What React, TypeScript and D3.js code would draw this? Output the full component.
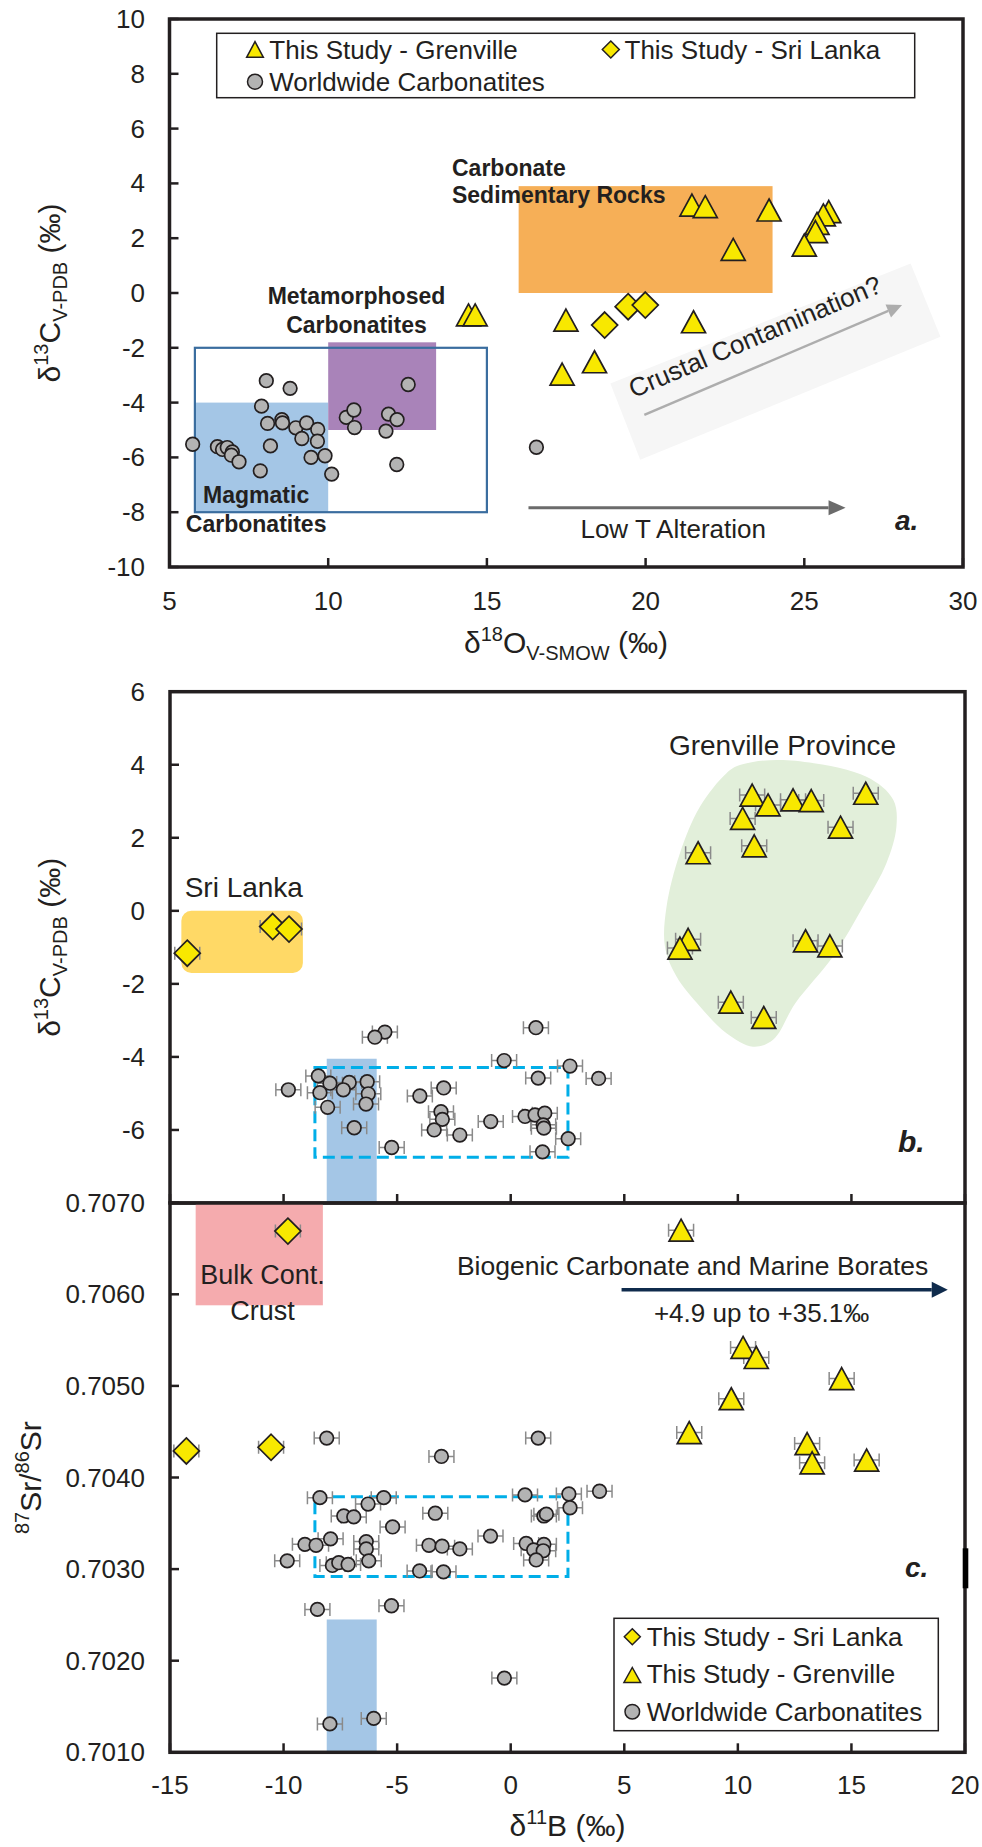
import React from 'react';
import * as d3 from 'd3';

// ---------- panel a : d18O (V-SMOW) vs d13C (V-PDB)
const grenO = [14.42, 14.63, 21.46, 21.88, 23.89, 22.76, 25.77, 25.6, 25.40, 25.35, 25.00, 17.49, 21.51, 18.39, 17.37];
const grenC_a = [-0.80, -0.80, 3.21, 3.15, 3.03, 1.59, 2.97, 2.85, 2.54, 2.24, 1.75, -0.99, -1.05, -2.51, -2.96];
const sriO = [18.71, 19.45, 19.99];
const sriC_a = [-1.17, -0.50, -0.44];
const worldO = [5.73, 6.51, 6.67, 6.82, 6.98, 6.95, 7.19, 7.86, 8.05, 8.80, 7.90, 8.09, 8.54, 8.56, 8.18, 8.98,
  9.32, 9.17, 9.67, 9.66, 9.46, 9.90, 10.11, 10.57, 10.81, 10.83, 11.90, 12.17, 11.82, 12.52, 12.16, 16.56];
const worldC_a = [-5.52, -5.61, -5.71, -5.64, -5.80, -5.92, -6.16, -6.49, -3.20, -3.48, -4.13, -4.76, -4.62, -4.74, -5.58, -4.92,
  -4.74, -5.31, -4.98, -5.41, -6.00, -5.94, -6.61, -4.54, -4.27, -4.91, -4.42, -4.62, -5.04, -3.34, -6.26, -5.63];

// fields in panel a  [x0, x1, y0, y1]
const magmaticFill = [5.8, 10, -8, -4];
const metaFill = [10, 13.4, -5, -1.8];
const sedFill = [16, 24, 0, 3.9];
const magmaticBox = [5.8, 15, -8, -2];
const contamShade = [[18.89, -3.30], [28.35, 1.08], [29.29, -1.60], [19.83, -6.09]];
const contamArrow = [[19.96, -4.45], [28.08, -0.44]];
const alterArrow = [[16.31, -7.84], [26.3, -7.84]];

const xTicksA = [5, 10, 15, 20, 25, 30];
const yTicksA = [10, 8, 6, 4, 2, 0, -2, -4, -6, -8, -10];

// ---------- panel b : d11B vs d13C
const grenB_b = [10.63, 11.33, 10.21, 12.43, 13.23, 15.63, 14.52, 8.25, 10.72, 7.81, 7.45, 12.98, 14.05, 9.69, 11.14];
const grenC_b = [3.17, 2.90, 2.53, 3.04, 3.02, 3.22, 2.29, 1.59, 1.78, -0.78, -1.02, -0.82, -0.96, -2.50, -2.92];
const sriB_b = [-14.24, -10.48, -9.76];
const sriC_b = [-1.16, -0.43, -0.50];
const worldB_b = [-5.54, -5.98, 1.11, -0.29, 2.61, 3.87, 1.21, -8.47, -7.96, -7.11, -6.32, -7.37, -9.79, -8.40, -6.27, -6.37,
  -8.06, -6.89, -4.00, -2.95, -3.07, -3.01, -3.37, -2.24, -5.24, -0.88, 0.63, 1.07, 1.50, 1.43, 1.46, 2.53, 1.40];
const worldC_b = [-3.32, -3.46, -3.20, -4.10, -4.25, -4.59, -4.58, -4.52, -4.72, -4.70, -4.68, -4.90, -4.90, -4.98, -5.01, -5.29,
  -5.38, -5.94, -5.07, -4.85, -5.50, -5.71, -6.00, -6.14, -6.48, -5.77, -5.63, -5.59, -5.54, -5.86, -5.95, -6.24, -6.60];
const grenHullB = [10.09, 11.99, 15.66, 16.84, 16.98, 16.54, 15.51, 14.19, 12.53, 11.55, 10.67, 9.50, 8.33, 7.30, 6.79, 6.86, 7.45, 8.33, 9.50];
const grenHullC = [3.99, 4.13, 3.67, 3.04, 2.30, 1.30, 0.11, -1.25, -2.53, -3.53, -3.72, -3.35, -2.62, -1.80, -0.98, 0.11, 1.58, 2.85, 3.77];
const sriLankaBox = [-14.5, -9.15, -1.7, 0];
const magmaticBand = [-8.1, -5.9];
const magmaticBandC = [-8, -4.05];
const worldBoxB = [-8.62, 2.52];
const worldBoxC = [-6.75, -4.29];
const yTicksB = [6, 4, 2, 0, -2, -4, -6];

// ---------- panel c : d11B vs 87Sr/86Sr
const grenB_c = [7.50, 10.23, 10.81, 14.57, 9.71, 7.86, 13.05, 13.27, 15.67];
const grenSr = [0.70670, 0.70542, 0.70531, 0.70508, 0.70486, 0.70449, 0.70437, 0.70416, 0.70419];
const sriB_c = [-9.81, -14.28, -10.55];
const sriSr = [0.70669, 0.70429, 0.70433];
const worldB_c = [-8.10, 1.21, -3.05, -8.40, -5.59, -6.28, -7.35, -6.91, -3.32, -5.20, 0.63, 2.56, 3.91, 2.61, 1.46, 1.57,
  -7.93, -9.06, -8.57, -6.36, -6.36, -6.25, -9.84, -7.85, -7.57, -7.16, -3.60, -3.02, -2.24, -0.89, 0.68, 1.46,
  1.01, 1.43, 1.12, -4.01, -2.96, -8.51, -5.25, -0.28, -7.96, -6.03];
const worldSr = [0.70443, 0.70443, 0.70423, 0.70378, 0.70378, 0.70371, 0.70358, 0.70357, 0.70361, 0.70346, 0.70381, 0.70382,
  0.70385, 0.70367, 0.70358, 0.70360, 0.70333, 0.70327, 0.70326, 0.70330, 0.70322, 0.70309, 0.70309, 0.70304, 0.70307,
  0.70305, 0.70326, 0.70325, 0.70322, 0.70336, 0.70328, 0.70327, 0.70321, 0.70320, 0.70310, 0.70298, 0.70297, 0.70256,
  0.70260, 0.70181, 0.70131, 0.70137];
const bulkCrustB = [-13.87, -8.27];
const bulkCrustSr = [0.70588, 0.7070];
const magmaticBandSr = [0.701, 0.70245];
const worldBoxSr = [0.70292, 0.70379];
const marineArrow = [4.88, 19.24];
const marineArrowSr = 0.70605;
const xTicksC = [-15, -10, -5, 0, 5, 10, 15, 20];
const yTicksC = [0.707, 0.706, 0.705, 0.704, 0.703, 0.702, 0.701];

const errB = 0.55;

const FONT = '"Liberation Sans", Arial, Helvetica, sans-serif';
const INK = '#231f20';
const YEL = '#f8e800';
const GREY = '#b3b3b3';

const xA = d3.scaleLinear().domain([5, 30]).range([169.5, 963]);
const yA = d3.scaleLinear().domain([-10, 10]).range([567, 19]);
const xB = d3.scaleLinear().domain([-15, 20]).range([170, 965]);
const yB = d3.scaleLinear().domain([-8, 6]).range([1203, 691.7]);
const yC = d3.scaleLinear().domain([0.701, 0.707]).range([1752.3, 1202.7]);

const tri = (cx, cy, w = 24, h = 22) => `M${cx},${cy - h / 2}L${cx + w / 2},${cy + h / 2}L${cx - w / 2},${cy + h / 2}Z`;
const dia = (cx, cy, r = 13) => `M${cx},${cy - r}L${cx + r},${cy}L${cx},${cy + r}L${cx - r},${cy}Z`;

function box(xs, ys, xr, yr) {
  return { x: xs(xr[0]), y: ys(yr[1]), width: xs(xr[1]) - xs(xr[0]), height: ys(yr[0]) - ys(yr[1]) };
}

function Arrow({ x1, y1, x2, y2, color, w, len, half }) {
  const a = Math.atan2(y2 - y1, x2 - x1);
  const bx = x2 - len * Math.cos(a), by = y2 - len * Math.sin(a);
  const px = -Math.sin(a) * half, py = Math.cos(a) * half;
  return (
    <g>
      <line x1={x1} y1={y1} x2={bx} y2={by} stroke={color} strokeWidth={w} />
      <path d={`M${x2},${y2}L${bx + px},${by + py}L${bx - px},${by - py}Z`} fill={color} />
    </g>
  );
}

function ErrBars({ xs, ys, xv, yv }) {
  return (
    <g stroke="#8a8a8a" strokeWidth={1.5} fill="none">
      {xv.map((v, i) => {
        const y = ys(yv[i]), a = xs(v - errB), b = xs(v + errB);
        return <path key={i} d={`M${a},${y}H${b}M${a},${y - 6.5}V${y + 6.5}M${b},${y - 6.5}V${y + 6.5}`} />;
      })}
    </g>
  );
}

function Points({ xs, ys, tx, ty, sx, sy, wx, wy }) {
  return (
    <g stroke={INK} strokeWidth={1.7}>
      {wx.map((v, i) => <circle key={'w' + i} cx={xs(v)} cy={ys(wy[i])} r={6.8} fill={GREY} />)}
      {sx.map((v, i) => <path key={'s' + i} d={dia(xs(v), ys(sy[i]))} fill={YEL} />)}
      {tx.map((v, i) => <path key={'t' + i} d={tri(xs(v), ys(ty[i]))} fill={YEL} />)}
    </g>
  );
}

export default function App() {
  const hull = d3.line().curve(d3.curveCatmullRomClosed.alpha(0.5))(
    grenHullB.map((v, i) => [xB(v), yB(grenHullC[i])])
  );
  const shade = contamShade.map(p => `${xA(p[0])},${yA(p[1])}`).join(' ');
  const cA = contamArrow.map(p => [xA(p[0]), yA(p[1])]);
  const ang = Math.atan2(cA[1][1] - cA[0][1], cA[1][0] - cA[0][0]) * 180 / Math.PI;

  return (
    <div style={{ position: 'absolute', left: 0, top: 0 }}>
      <svg width={982} height={1847} viewBox="0 0 982 1847" fontFamily={FONT} fill={INK} style={{ display: 'block', background: '#fff' }}>
        {/* ================= panel a ================= */}
        <rect {...box(xA, yA, [magmaticFill[0], magmaticFill[1]], [magmaticFill[2], magmaticFill[3]])} fill="#a4c6e6" />
        <rect {...box(xA, yA, [metaFill[0], metaFill[1]], [metaFill[2], metaFill[3]])} fill="#a983b9" />
        <rect {...box(xA, yA, [sedFill[0], sedFill[1]], [sedFill[2], sedFill[3]])} fill="#f6af57" />
        <rect {...box(xA, yA, [magmaticBox[0], magmaticBox[1]], [magmaticBox[2], magmaticBox[3]])} fill="none" stroke="#3a6d9f" strokeWidth={2.2} />
        <polygon points={shade} fill="#f6f6f6" />
        <Arrow x1={cA[0][0]} y1={cA[0][1]} x2={cA[1][0]} y2={cA[1][1]} color="#adadad" w={2.5} len={15} half={7} />
        <text transform={`translate(${xA(19.62)},${yA(-3.84)}) rotate(${ang})`} fontSize={26}>Crustal Contamination?</text>
        <Arrow x1={xA(alterArrow[0][0])} y1={yA(alterArrow[0][1])} x2={xA(alterArrow[1][0])} y2={yA(alterArrow[1][1])} color="#6b6b6b" w={3} len={17} half={7.5} />
        <text x={xA(20.87)} y={yA(-8.95)} fontSize={26} textAnchor="middle">Low T Alteration</text>

        <g fontWeight="bold" fontSize={23}>
          <text x={xA(13.9)} y={yA(4.27)}>Carbonate</text>
          <text x={xA(13.9)} y={yA(3.27)}>Sedimentary Rocks</text>
          <text x={xA(10.89)} y={yA(-0.39)} textAnchor="middle">Metamorphosed</text>
          <text x={xA(10.89)} y={yA(-1.47)} textAnchor="middle">Carbonatites</text>
          <text x={xA(7.73)} y={yA(-7.68)} textAnchor="middle">Magmatic</text>
          <text x={xA(7.73)} y={yA(-8.71)} textAnchor="middle">Carbonatites</text>
        </g>

        <Points xs={xA} ys={yA} tx={grenO} ty={grenC_a} sx={sriO} sy={sriC_a} wx={worldO} wy={worldC_a} />
        <text x={895} y={530} fontSize={28} fontWeight="bold" fontStyle="italic">a.</text>

        {/* legend a */}
        <rect x={216.7} y={33.3} width={698} height={64.4} fill="#fff" stroke={INK} strokeWidth={1.5} />
        <g stroke={INK} strokeWidth={1.5}>
          <path d={tri(255, 49.5, 16.7, 15.6)} fill={YEL} />
          <circle cx={255} cy={81.7} r={7.5} fill={GREY} />
          <path d={dia(610.8, 49.5, 8.5)} fill={YEL} />
        </g>
        <g fontSize={26}>
          <text x={269.3} y={58.5}>This Study - Grenville</text>
          <text x={624.5} y={58.5}>This Study - Sri Lanka</text>
          <text x={269.3} y={90.5}>Worldwide Carbonatites</text>
        </g>

        {/* axes a */}
        <rect x={169.5} y={19} width={793.5} height={548} fill="none" stroke={INK} strokeWidth={3.5} />
        <g stroke={INK} strokeWidth={2.5}>
          {yTicksA.map(t => <line key={t} x1={169.5} x2={178.5} y1={yA(t)} y2={yA(t)} />)}
          {xTicksA.map(t => <line key={t} x1={xA(t)} x2={xA(t)} y1={567} y2={558} />)}
        </g>
        <g fontSize={26}>
          {yTicksA.map(t => <text key={t} x={145} y={yA(t) + 9} textAnchor="end">{String(t)}</text>)}
          {xTicksA.map(t => <text key={t} x={xA(t)} y={610} textAnchor="middle">{String(t)}</text>)}
        </g>
        <text x={566} y={653} fontSize={30} textAnchor="middle">
          δ<tspan fontSize={20} dy={-12}>18</tspan><tspan dy={12}>O</tspan><tspan fontSize={20} dy={7}>V-SMOW</tspan><tspan dy={-7}> (‰)</tspan>
        </text>
        <text transform="translate(60,293) rotate(-90)" fontSize={30} textAnchor="middle">
          δ<tspan fontSize={20} dy={-12}>13</tspan><tspan dy={12}>C</tspan><tspan fontSize={20} dy={7}>V-PDB</tspan><tspan dy={-7}> (‰)</tspan>
        </text>

        {/* ================= panel b ================= */}
        <path d={hull} fill="#e2efda" />
        <rect {...box(xB, yB, [sriLankaBox[0], sriLankaBox[1]], [sriLankaBox[2], sriLankaBox[3]])} rx={10} fill="#ffd966" />
        <rect {...box(xB, yB, magmaticBand, magmaticBandC)} fill="#a4c6e6" />
        <rect {...box(xB, yB, worldBoxB, worldBoxC)} fill="none" stroke="#00aee8" strokeWidth={3} strokeDasharray="12 6" />
        <ErrBars xs={xB} ys={yB} xv={worldB_b} yv={worldC_b} />
        <ErrBars xs={xB} ys={yB} xv={grenB_b} yv={grenC_b} />
        <ErrBars xs={xB} ys={yB} xv={sriB_b} yv={sriC_b} />
        <Points xs={xB} ys={yB} tx={grenB_b} ty={grenC_b} sx={sriB_b} sy={sriC_b} wx={worldB_b} wy={worldC_b} />
        <text x={243.8} y={897} fontSize={28} textAnchor="middle">Sri Lanka</text>
        <text x={782.5} y={755} fontSize={28} textAnchor="middle">Grenville Province</text>
        <text x={898} y={1152} fontSize={30} fontWeight="bold" fontStyle="italic">b.</text>

        <rect x={170} y={691.7} width={795} height={511.3} fill="none" stroke={INK} strokeWidth={3.5} />
        <g stroke={INK} strokeWidth={2.5}>
          {yTicksB.map(t => <line key={t} x1={170} x2={179} y1={yB(t)} y2={yB(t)} />)}
          {xTicksC.map(t => <line key={t} x1={xB(t)} x2={xB(t)} y1={1203} y2={1194} />)}
        </g>
        <g fontSize={26}>
          {yTicksB.map(t => <text key={t} x={145} y={yB(t) + 9} textAnchor="end">{String(t)}</text>)}
        </g>
        <text transform={`translate(60,${(691.7 + 1203) / 2}) rotate(-90)`} fontSize={30} textAnchor="middle">
          δ<tspan fontSize={20} dy={-12}>13</tspan><tspan dy={12}>C</tspan><tspan fontSize={20} dy={7}>V-PDB</tspan><tspan dy={-7}> (‰)</tspan>
        </text>

        {/* ================= panel c ================= */}
        <rect {...box(xB, yC, bulkCrustB, bulkCrustSr)} fill="#f5abae" />
        <rect {...box(xB, yC, magmaticBand, magmaticBandSr)} fill="#a4c6e6" />
        <rect {...box(xB, yC, worldBoxB, worldBoxSr)} fill="none" stroke="#00aee8" strokeWidth={3} strokeDasharray="12 6" />
        <ErrBars xs={xB} ys={yC} xv={worldB_c} yv={worldSr} />
        <ErrBars xs={xB} ys={yC} xv={grenB_c} yv={grenSr} />
        <ErrBars xs={xB} ys={yC} xv={sriB_c} yv={sriSr} />
        <Points xs={xB} ys={yC} tx={grenB_c} ty={grenSr} sx={sriB_c} sy={sriSr} wx={worldB_c} wy={worldSr} />
        <g fontSize={27} textAnchor="middle">
          <text x={262.5} y={1284}>Bulk Cont.</text>
          <text x={262.5} y={1320}>Crust</text>
        </g>
        <text x={692.6} y={1275} fontSize={26.5} textAnchor="middle">Biogenic Carbonate and Marine Borates</text>
        <Arrow x1={xB(marineArrow[0])} y1={yC(marineArrowSr)} x2={xB(marineArrow[1])} y2={yC(marineArrowSr)} color="#0f2b4c" w={3.5} len={16} half={8} />
        <text x={761.6} y={1322} fontSize={26} textAnchor="middle">+4.9 up to +35.1‰</text>
        <text x={905} y={1577} fontSize={28} fontWeight="bold" fontStyle="italic">c.</text>

        {/* legend c */}
        <rect x={614} y={1618.3} width={324.3} height={112.4} fill="#fff" stroke={INK} strokeWidth={1.5} />
        <g stroke={INK} strokeWidth={1.5}>
          <path d={dia(632.3, 1636.7, 8)} fill={YEL} />
          <path d={tri(632.3, 1675, 16.7, 15)} fill={YEL} />
          <circle cx={632.3} cy={1711.7} r={7.3} fill={GREY} />
        </g>
        <g fontSize={26}>
          <text x={646.7} y={1645.7}>This Study - Sri Lanka</text>
          <text x={646.7} y={1683.3}>This Study - Grenville</text>
          <text x={646.7} y={1720.7}>Worldwide Carbonatites</text>
        </g>

        <rect x={170} y={1203} width={795} height={549.3} fill="none" stroke={INK} strokeWidth={3.5} />
        <rect x={962.7} y={1548.3} width={5.6} height={40} fill="#000" />
        <g stroke={INK} strokeWidth={2.5}>
          {yTicksC.map(t => <line key={t} x1={170} x2={179} y1={yC(t)} y2={yC(t)} />)}
          {xTicksC.map(t => <line key={t} x1={xB(t)} x2={xB(t)} y1={1752.3} y2={1743.3} />)}
        </g>
        <g fontSize={26}>
          {yTicksC.map(t => <text key={t} x={145} y={yC(t) + 9} textAnchor="end">{t.toFixed(4)}</text>)}
          {xTicksC.map(t => <text key={t} x={xB(t)} y={1794} textAnchor="middle">{String(t)}</text>)}
        </g>
        <text x={567.5} y={1836} fontSize={30} textAnchor="middle">
          δ<tspan fontSize={20} dy={-12}>11</tspan><tspan dy={12}>B (‰)</tspan>
        </text>
        <text transform={`translate(41,${(1203 + 1752.3) / 2}) rotate(-90)`} fontSize={30} textAnchor="middle">
          <tspan fontSize={20} dy={-12}>87</tspan><tspan dy={12}>Sr/</tspan><tspan fontSize={20} dy={-12}>86</tspan><tspan dy={12}>Sr</tspan>
        </text>
      </svg>
    </div>
  );
}
